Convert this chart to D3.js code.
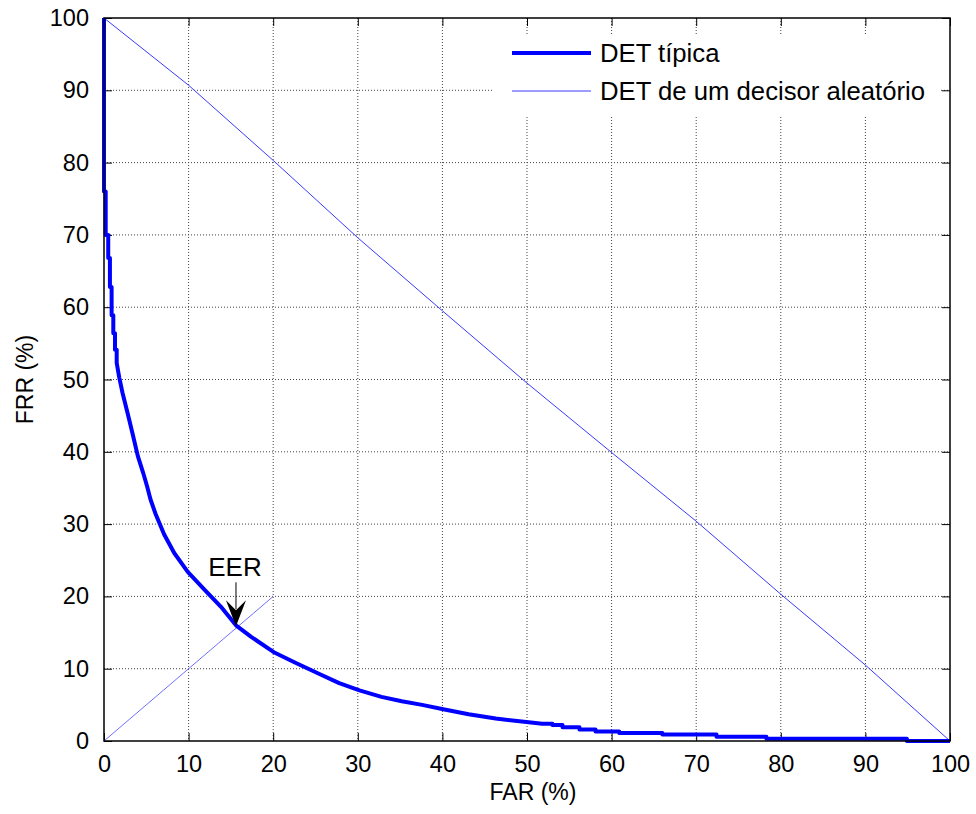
<!DOCTYPE html>
<html>
<head>
<meta charset="utf-8">
<script src="https://cdn.jsdelivr.net/npm/d3@7"></script>
<style>
  body { margin: 0; background: #fff; }
  svg text { font-family: "Liberation Sans", Arial, sans-serif; fill: #000; }
</style>
</head>
<body>
<svg id="chart" width="976" height="814"></svg>
<script>
// typical DET curve (FAR %, FRR %)
var farTypical = [0, 0, 0.2, 0.2, 0.5, 0.5, 0.7, 0.7, 0.9, 0.9, 1.1, 1.1, 1.3, 1.3, 1.5, 1.5,
  1.8, 2.2, 2.8, 3.4, 4.0, 4.6, 5.1, 5.5, 6.1, 7.1, 8.3, 9.9, 11.9, 13.8, 15.6, 17.4, 20.2,
  22.5, 25.4, 27.8, 30.2, 32.8, 35.2, 37.6, 40.1, 43.1, 46.3, 50.2, 51.8, 53.0, 53.0, 54.2,
  54.2, 56.2, 56.2, 58.1, 58.1, 60.9, 60.9, 66.0, 66.0, 72.4, 72.4, 78.3, 78.3, 94.9, 94.9, 100];
var frrTypical = [100, 76, 76, 70, 70, 66.8, 66.8, 62.8, 62.8, 58.9, 58.9, 56.4, 56.4, 54.1, 54.1, 52.3,
  50.3, 48.1, 45.3, 42.4, 39.4, 37.2, 35.2, 33.4, 31.4, 28.6, 26.0, 23.4, 20.9, 18.6, 16.0, 14.4, 12.2,
  10.9, 9.3, 8.0, 7.0, 6.1, 5.5, 5.0, 4.4, 3.7, 3.1, 2.6, 2.4, 2.4, 2.2, 2.2,
  1.9, 1.9, 1.6, 1.6, 1.3, 1.3, 1.1, 1.1, 0.9, 0.9, 0.6, 0.6, 0.3, 0.3, 0, 0];

// DET of a random decider
var farRandom = [0, 10, 20, 30, 40, 50, 60, 70, 80, 90, 100];
var frrRandom = [100, 90.7, 80.3, 69.6, 59.5, 49.5, 39.9, 30.4, 20.3, 10.5, 0];

// FAR = FRR reference segment and EER point
var diagFar = [0, 20];
var diagFrr = [0, 20];
var eerFar = 15.6, eerFrr = 16.0;

var tickValues = [0, 10, 20, 30, 40, 50, 60, 70, 80, 90, 100];
var legendLabels = ["DET típica", "DET de um decisor aleatório"];

var svg = d3.select("#chart");
var pLeft = 104, pRight = 950, pTop = 18, pBottom = 741;

var x = d3.scaleLinear().domain([0, 100]).range([pLeft, pRight]);
var y = d3.scaleLinear().domain([0, 100]).range([pBottom, pTop]);

/*========== grid ===========*/
var grid = svg.append("g").attr("class", "grid");
grid.selectAll(".vgrid").data(tickValues.slice(1, -1)).enter().append("line")
    .attr("x1", function (d) { return x(d); }).attr("x2", function (d) { return x(d); })
    .attr("y1", pTop).attr("y2", pBottom)
    .attr("stroke", "#444").attr("stroke-width", 1).attr("stroke-dasharray", "1,2");
grid.selectAll(".hgrid").data(tickValues.slice(1, -1)).enter().append("line")
    .attr("y1", function (d) { return y(d); }).attr("y2", function (d) { return y(d); })
    .attr("x1", pLeft).attr("x2", pRight)
    .attr("stroke", "#444").attr("stroke-width", 1).attr("stroke-dasharray", "1,2");

/*========== axes ===========*/
var tl = 8;
var xAxisB = d3.axisBottom(x).tickValues(tickValues).tickSizeInner(-tl).tickSizeOuter(0).tickPadding(14);
var xAxisT = d3.axisTop(x).tickValues(tickValues).tickSizeInner(-tl).tickSizeOuter(0).tickFormat("");
var yAxisL = d3.axisLeft(y).tickValues(tickValues).tickSizeInner(-tl).tickSizeOuter(0).tickPadding(15);
var yAxisR = d3.axisRight(y).tickValues(tickValues).tickSizeInner(-tl).tickSizeOuter(0).tickFormat("");

function styleAxis(g) {
    g.select(".domain").remove();
    g.selectAll(".tick line").attr("stroke", "#000").attr("stroke-width", 1);
    g.selectAll(".tick text").attr("font-size", "23.5px").attr("fill", "#000")
        .style("font-family", "'Liberation Sans', Arial, sans-serif");
}
svg.append("g").attr("transform", "translate(0," + pBottom + ")").call(xAxisB).call(styleAxis);
svg.append("g").attr("transform", "translate(0," + pTop + ")").call(xAxisT).call(styleAxis);
svg.append("g").attr("transform", "translate(" + pLeft + ",0)").call(yAxisL).call(styleAxis);
svg.append("g").attr("transform", "translate(" + pRight + ",0)").call(yAxisR).call(styleAxis);

/*========== lines ===========*/
var line = d3.line().x(function (d) { return x(d[0]); }).y(function (d) { return y(d[1]); });

svg.append("path")
    .datum(d3.zip(farRandom, frrRandom))
    .attr("d", line).attr("fill", "none").attr("stroke", "#3a3aff").attr("stroke-width", 1);

svg.append("path")
    .datum(d3.zip(diagFar, diagFrr))
    .attr("d", line).attr("fill", "none").attr("stroke", "#7070ff").attr("stroke-width", 1);

svg.append("path")
    .datum(d3.zip(farTypical, frrTypical))
    .attr("d", line).attr("fill", "none").attr("stroke", "#0000ff")
    .attr("stroke-width", 4).attr("stroke-linejoin", "round");

// box
svg.append("rect").attr("x", pLeft).attr("y", pTop)
    .attr("width", pRight - pLeft).attr("height", pBottom - pTop)
    .attr("fill", "none").attr("stroke", "#000").attr("stroke-width", 1.5);

/*========== EER annotation ===========*/
var ex = x(eerFar), ey = y(eerFrr);
svg.append("text").attr("x", ex - 1).attr("y", ey - 49)
    .attr("text-anchor", "middle").attr("font-size", "26px").text("EER");
svg.append("line").attr("x1", ex).attr("x2", ex).attr("y1", ey - 43).attr("y2", ey - 16)
    .attr("stroke", "#000").attr("stroke-width", 1);
svg.append("path")
    .attr("d", "M" + ex + "," + (ey + 1) +
        "L" + (ex - 10) + "," + (ey - 25) +
        "L" + ex + "," + (ey - 15) +
        "L" + (ex + 10) + "," + (ey - 25) + "Z")
    .attr("fill", "#000");

/*========== legend ===========*/
var lg = svg.append("g");
lg.append("rect").attr("x", 493).attr("y", 34).attr("width", 446).attr("height", 82).attr("fill", "#fff");
var legendW = [4, 1];
var legendC = ["#0000ff", "#3a3aff"];
legendLabels.forEach(function (lab, i) {
    var ly = 53 + i * 38;
    lg.append("line").attr("x1", 512).attr("x2", 591).attr("y1", ly).attr("y2", ly)
        .attr("stroke", legendC[i]).attr("stroke-width", legendW[i]);
    lg.append("text").attr("x", 600).attr("y", ly + 9).attr("font-size", "25.7px").text(lab);
});

/*========== axis labels ===========*/
svg.append("text").attr("x", x(50) + 6).attr("y", 800)
    .attr("text-anchor", "middle").attr("font-size", "23px").text("FAR (%)");
svg.append("text").attr("transform", "translate(33," + y(50) + ") rotate(-90)")
    .attr("text-anchor", "middle").attr("font-size", "23px").text("FRR (%)");
</script>
</body>
</html>
